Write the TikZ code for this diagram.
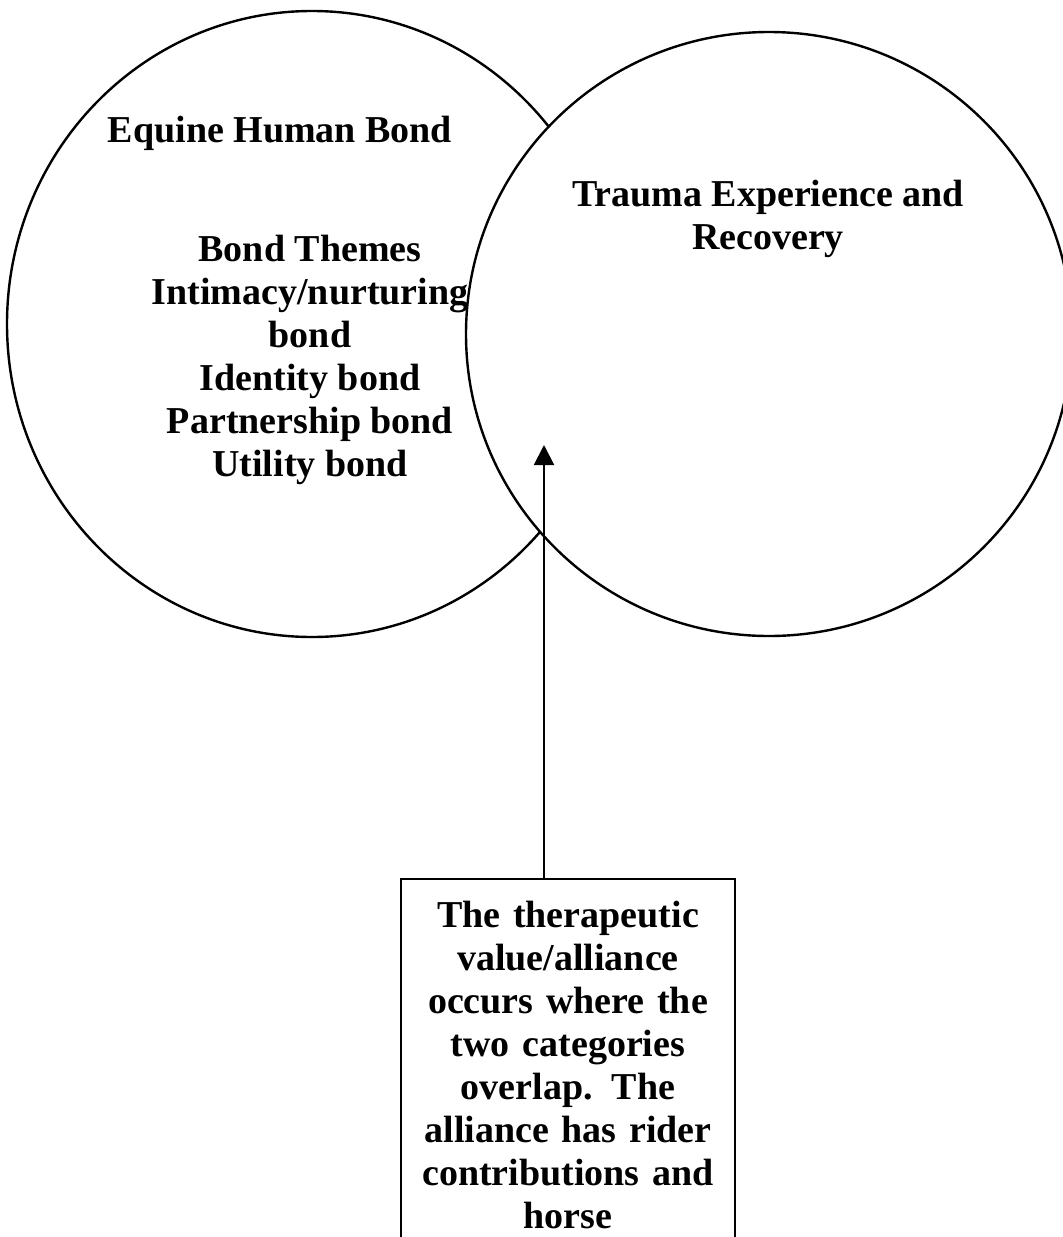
\documentclass[tikz,border=0pt]{standalone}
\usepackage{fontspec}
\setmainfont{Liberation Serif}
\usetikzlibrary{shapes.geometric,positioning,arrows.meta}

\begin{document}
\begin{tikzpicture}[x=0.5pt, y=-0.5pt, line width=1.2pt,
    venn/.style={draw, ellipse, fill=white, inner sep=0pt},
    bondtext/.style={font=\bfseries\fontsize{19}{21.5}\selectfont, align=center},
    notebox/.style={draw, bondtext, anchor=north, text width=159pt,
        inner xsep=4pt, inner ysep=11pt, text depth=200pt}]

    \useasboundingbox (0,0) rectangle (1063,1237);
    \clip (0,0) rectangle (1063,1237);

    % the two categories, the second one lies over the first
    \node[venn, minimum width=305pt, minimum height=313pt] (bond) at (312,324) {};
    \node[venn, minimum width=303pt, minimum height=302pt] (trauma) at (769,334) {};

    \node[bondtext] (bondtitle) at (280,133) {Equine Human Bond};
    \node[bondtext] (themes) at (310,360) {Bond Themes\\ Intimacy/nurturing\\ bond\\
        Identity bond\\ Partnership bond\\ Utility bond};
    \node[bondtext] (traumatitle) at (768,219) {Trauma Experience and\\ Recovery};

    % where they overlap
    \node[notebox] (note) at (568,878) {The therapeutic\\ value/alliance\\
        occurs where the\\ two categories\\ overlap. The\\ alliance has rider\\
        contributions and\\ horse};

    \coordinate (overlap) at (544,445);
    \path[-{Triangle[length=10pt,width=10pt]}, line width=1pt]
        (note.north -| overlap) edge (overlap);
\end{tikzpicture}
\end{document}
